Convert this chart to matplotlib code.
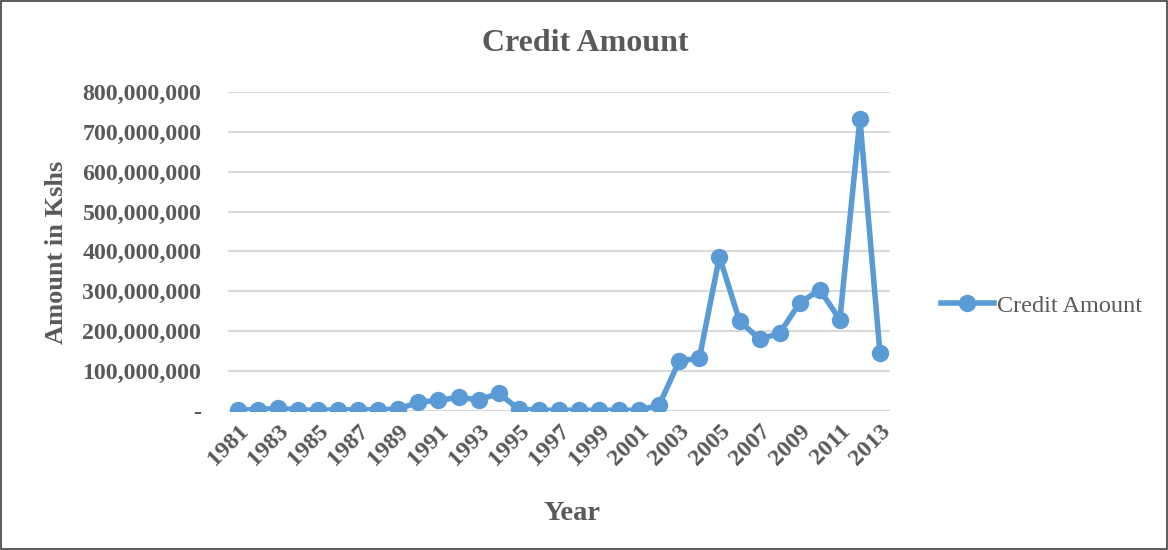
import matplotlib.pyplot as plt
from matplotlib.patches import Rectangle
from matplotlib.ticker import FuncFormatter

years = list(range(1981, 2014))
credit = [3e6, 3e6, 7e6, 3e6, 2e6, 3e6, 3e6, 3e6, 5e6, 22e6,
          27e6, 34e6, 28e6, 44e6, 5e6, 2e6, 2e6, 2e6, 2e6, 2e6,
          2e6, 15e6, 126e6, 132e6, 387e6, 226e6, 180e6, 195e6, 271e6, 304e6,
          229e6, 732e6, 145e6]
x_labels = [str(y) for y in years[::2]]

plt.rcParams["font.family"] = ["Liberation Serif", "DejaVu Serif"]
text_color = "#595959"
blue = "#5B9BD5"

fig = plt.figure(figsize=(11.68, 5.5), dpi=100)
ax = fig.add_axes([0.195, 0.2527, 0.567, 0.5803])

ax.plot(years, credit, color=blue, linewidth=4, marker="o",
        markersize=11.5, label="Credit Amount", zorder=3)

ax.set_xlim(1980.5, 2013.5)
ax.set_ylim(0, 800e6)
ax.set_yticks([i * 100e6 for i in range(9)])
ax.yaxis.set_major_formatter(FuncFormatter(
    lambda v, p: "-" if v == 0 else f"{int(v):,}"))
ax.set_xticks(years[::2])
ax.set_xticklabels(x_labels, rotation=45, ha="right", rotation_mode="anchor")

ax.grid(axis="y", color="#D9D9D9", linewidth=1.5)
ax.set_axisbelow(True)
for s in ax.spines.values():
    s.set_visible(False)
ax.tick_params(length=0, colors=text_color)
ax.tick_params(axis="y", labelsize=17.2, pad=19)
ax.tick_params(axis="x", labelsize=17.5, pad=7)
for lab in ax.get_xticklabels() + ax.get_yticklabels():
    lab.set_fontweight("bold")

fig.text(0.501, 0.921, "Credit Amount", fontsize=23, fontweight="bold",
         color=text_color, ha="center", va="center")
fig.text(0.048, 0.542, "Amount in Kshs", rotation=90, fontsize=19,
         fontweight="bold", color=text_color, ha="center", va="center")
fig.text(0.49, 0.067, "Year", fontsize=20.5, fontweight="bold",
         color=text_color, ha="center", va="center")

leg = fig.legend(loc="center left", bbox_to_anchor=(0.797, 0.444),
                 frameon=False, fontsize=17.5, handlelength=2.2,
                 handletextpad=0.1, borderaxespad=0)
for t in leg.get_texts():
    t.set_color(text_color)

fig.patches.append(Rectangle((0.001, 0.002), 0.998, 0.996,
                             transform=fig.transFigure, fill=False,
                             edgecolor="#404040", linewidth=1.2))

fig.savefig("out.png", dpi=100)
